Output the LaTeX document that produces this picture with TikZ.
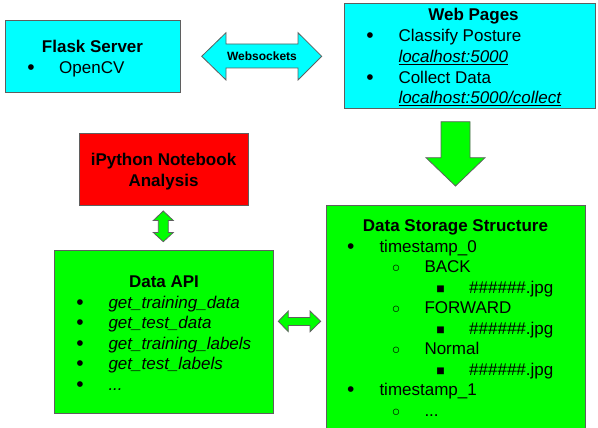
\documentclass[tikz,border=0pt]{standalone}
\usepackage{fontspec}
\setmainfont{Liberation Sans}
\definecolor{bordergray}{RGB}{95,95,95}
\definecolor{boxcyan}{RGB}{0,255,255}
\definecolor{boxred}{RGB}{255,0,0}
\definecolor{boxgreen}{RGB}{0,255,0}
\begin{document}
\begin{tikzpicture}[x=1pt,y=-1pt,
  box/.style={draw=bordergray,line width=1pt,minimum width=#1,anchor=north west,inner sep=0pt},
  txt/.style={inner sep=0pt,anchor=base west,font=\fontsize{17}{20}\selectfont},
  ital/.style={txt,font=\fontsize{17}{20}\selectfont\itshape},
  ttl/.style={inner sep=0pt,anchor=base,font=\fontsize{17}{20}\selectfont\bfseries},
  blt/.style={inner sep=0pt,anchor=base,font=\fontsize{21}{22}\selectfont,yshift=-1pt},
  bltc/.style={inner sep=0pt,anchor=base,font=\fontsize{14}{15}\selectfont},
  blts/.style={inner sep=0pt,anchor=base,font=\fontsize{14}{15}\selectfont},
  barrow/.style={draw=bordergray,line width=0.8pt,line join=miter}]
\useasboundingbox (0,0) rectangle (598,428);

% boxes
\node[box=175pt,minimum height=72pt,fill=boxcyan] (flask) at (5,20) {};
\node[box=251pt,minimum height=105pt,fill=boxcyan] (web) at (344,3) {};
\node[box=169pt,minimum height=72pt,fill=boxred] (ipy) at (79,133) {};
\node[box=219pt,minimum height=163pt,fill=boxgreen] (api) at (54,249.5) {};
\node[box=259pt,minimum height=240pt,fill=boxgreen] (store) at (326,205) {};

% block arrows
\draw[barrow,fill=boxcyan] (201.7,56.3) -- (226,32.7) -- (226,44) -- (298,44) -- (298,32.7)
  -- (321.7,56.3) -- (298,80) -- (298,68) -- (226,68) -- (226,80) -- cycle;
\node[inner sep=0pt,anchor=base,font=\fontsize{12}{14}\selectfont\bfseries] (ws) at (262,60.5) {Websockets};

\draw[barrow,fill=boxgreen] (441,121.7) -- (470,121.7) -- (470,157.7) -- (485,157.7) -- (455.5,186)
  -- (426,157.7) -- (441,157.7) -- cycle;

\draw[barrow,fill=boxgreen] (163.3,211) -- (173.3,220.5) -- (168.3,220.5) -- (168.3,232.5) -- (173.3,232.5)
  -- (163.3,241.7) -- (153.3,232.5) -- (158.3,232.5) -- (158.3,220.5) -- (153.3,220.5) -- cycle;

\draw[barrow,fill=boxgreen] (278.3,321.3) -- (288.3,311) -- (288.3,317.5) -- (310,317.5) -- (310,311)
  -- (320.7,321.3) -- (310,331.7) -- (310,325.5) -- (288.3,325.5) -- (288.3,331.7) -- cycle;

% Flask Server
\node[ttl] (flaskt) at (92.5,53) {Flask Server};
\node[blt] (flaskb1) at (31,74) {•};
\node[txt] (flask1) at (59,74) {OpenCV};

% Web Pages
\node[ttl] (webt) at (473.5,21) {Web Pages};
\node[blt] (webb1) at (370,42) {•};
\node[txt] (web1) at (398.3,42) {Classify Posture};
\node[ital] (web2) at (398.3,63) {\underline{localhost:5000}};
\node[blt] (webb2) at (370,84) {•};
\node[txt] (web3) at (398.3,84) {Collect Data};
\node[ital] (web4) at (398.3,104) {\underline{localhost:5000/collect}};

% iPython
\node[ttl] (ipy1) at (163.5,165.3) {iPython Notebook};
\node[ttl] (ipy2) at (163.5,186.7) {Analysis};

% Data API
\node[ttl] (apit) at (164,287.7) {Data API};
\foreach \i/\t in {0/get\_training\_data,1/get\_test\_data,2/get\_training\_labels,3/get\_test\_labels}{
  \node[blt] (apib\i) at (80,308.3+20.5*\i) {•};
  \node[ital] (api\i) at (108.3,308.3+20.5*\i) {\t};
}
\node[blt] (apib4) at (80,390.3) {•};
\node[ital] (api4) at (108.3,390.3) {...};

% Data Storage Structure
\node[ttl] (storet) at (455.5,231.5) {Data Storage Structure};
\node[blt] (sb0) at (350.7,252) {•};
\node[txt] (s0) at (379.3,252) {timestamp\_0};
\node[bltc] (sc0) at (396,272.5) {○};
\node[txt] (s1) at (424.3,272.5) {BACK};
\node[blts] (sq0) at (440.7,293) {■};
\node[txt] (s2) at (469,293) {\#\#\#\#\#\#.jpg};
\node[bltc] (sc1) at (396,313.5) {○};
\node[txt] (s3) at (424.3,313.5) {FORWARD};
\node[blts] (sq1) at (440.7,334) {■};
\node[txt] (s4) at (469,334) {\#\#\#\#\#\#.jpg};
\node[bltc] (sc2) at (396,354.5) {○};
\node[txt] (s5) at (424.3,354.5) {Normal};
\node[blts] (sq2) at (440.7,375) {■};
\node[txt] (s6) at (469,375) {\#\#\#\#\#\#.jpg};
\node[blt] (sb1) at (350.7,395.5) {•};
\node[txt] (s7) at (379.3,395.5) {timestamp\_1};
\node[bltc] (sc3) at (396,416) {○};
\node[txt] (s8) at (424.3,416) {...};
\end{tikzpicture}
\end{document}
